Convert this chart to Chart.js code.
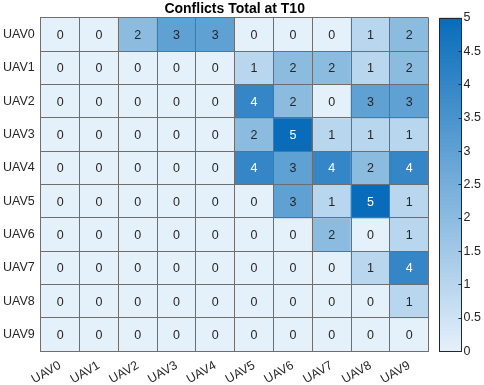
<!DOCTYPE html>
<html>
<head>
<meta charset="utf-8">
<script src="https://cdn.jsdelivr.net/npm/chart.js@4"></script>
<style>
  html, body { margin: 0; padding: 0; background: #fff; }
  #wrap { width: 484px; height: 385px; }
</style>
</head>
<body>
<div id="wrap"><canvas id="heatChart"></canvas></div>
<script>
const uavs = ['UAV0', 'UAV1', 'UAV2', 'UAV3', 'UAV4', 'UAV5', 'UAV6', 'UAV7', 'UAV8', 'UAV9'];

// rows = UAV0..UAV9 (top to bottom), columns = UAV0..UAV9 (left to right)
const conflicts = [
  [0, 0, 2, 3, 3, 0, 0, 0, 1, 2],
  [0, 0, 0, 0, 0, 1, 2, 2, 1, 2],
  [0, 0, 0, 0, 0, 4, 2, 0, 3, 3],
  [0, 0, 0, 0, 0, 2, 5, 1, 1, 1],
  [0, 0, 0, 0, 0, 4, 3, 4, 2, 4],
  [0, 0, 0, 0, 0, 0, 3, 1, 5, 1],
  [0, 0, 0, 0, 0, 0, 0, 2, 0, 1],
  [0, 0, 0, 0, 0, 0, 0, 0, 1, 4],
  [0, 0, 0, 0, 0, 0, 0, 0, 0, 1],
  [0, 0, 0, 0, 0, 0, 0, 0, 0, 0]
];

const colorMin = 0;
const colorMax = 5;
const lowColor = [228, 240, 250];
const highColor = [8, 108, 186];
const fontFamily = '"Liberation Sans", Arial, Helvetica, sans-serif';

Chart.defaults.font.family = fontFamily;
Chart.defaults.color = '#262626';

function cellColor(v) {
  const t = (v - colorMin) / (colorMax - colorMin);
  const c = lowColor.map((lo, k) => Math.round(lo + (highColor[k] - lo) * t));
  return `rgb(${c[0]}, ${c[1]}, ${c[2]})`;
}

// numbers inside the cells
const cellLabels = {
  id: 'cellLabels',
  afterDatasetsDraw(chart) {
    const ctx = chart.ctx;
    ctx.save();
    ctx.font = '12.5px ' + fontFamily;
    ctx.textAlign = 'center';
    ctx.textBaseline = 'middle';
    chart.data.datasets.forEach((ds, i) => {
      chart.getDatasetMeta(i).data.forEach((bar, j) => {
        const v = conflicts[i][j];
        ctx.fillStyle = v >= 4 ? '#ffffff' : '#262626';
        ctx.fillText(String(v), bar.x, (bar.y + bar.base) / 2 + 1);
      });
    });
    ctx.restore();
  }
};

// colour bar drawn inside the space of the 'cb' axis
const colorBar = {
  id: 'colorBar',
  afterDraw(chart) {
    const cb = chart.scales.cb;
    const ctx = chart.ctx;
    const x0 = Math.round(cb.left + 10) + 0.5;
    const x1 = Math.round(cb.left + 32) + 0.5;
    const yTop = cb.getPixelForValue(colorMax);
    const yBot = cb.getPixelForValue(colorMin);
    ctx.save();
    const grad = ctx.createLinearGradient(0, yBot, 0, yTop);
    grad.addColorStop(0, cellColor(colorMin));
    grad.addColorStop(1, cellColor(colorMax));
    ctx.fillStyle = grad;
    ctx.fillRect(x0, yTop, x1 - x0, yBot - yTop);
    ctx.strokeStyle = '#262626';
    ctx.lineWidth = 1;
    ctx.strokeRect(x0, Math.round(yTop) + 0.5, x1 - x0, Math.round(yBot - yTop));
    ctx.beginPath();
    cb.ticks.forEach(t => {
      const y = Math.round(cb.getPixelForValue(t.value)) + 0.5;
      ctx.moveTo(x1, y);
      ctx.lineTo(x1 - 3, y);
    });
    ctx.stroke();
    ctx.restore();
  }
};

const ctx = document.getElementById('heatChart').getContext('2d');

new Chart(ctx, {
  type: 'bar',
  data: {
    labels: uavs,
    datasets: conflicts.map((row, i) => ({
      label: uavs[i],
      data: uavs.map(() => [i, i + 1]),
      backgroundColor: row.map(cellColor),
      borderWidth: 0,
      barPercentage: 1,
      categoryPercentage: 1,
      grouped: false,
      yAxisID: 'y'
    }))
  },
  options: {
    responsive: true,
    maintainAspectRatio: false,
    animation: false,
    layout: { padding: { left: -3, right: 0, top: 1, bottom: -9 } },
    plugins: {
      legend: { display: false },
      tooltip: { enabled: false },
      title: {
        display: true,
        text: 'Conflicts Total at T10',
        fullSize: false,
        color: '#000',
        font: { size: 14, weight: 'bold' },
        padding: { top: 0, bottom: 0 }
      }
    },
    scales: {
      x: {
        type: 'category',
        offset: true,
        grid: { offset: true, color: '#6e6e6e', drawTicks: false, z: 1 },
        border: { color: '#6e6e6e', z: 1 },
        ticks: { minRotation: 30, maxRotation: 30, padding: 7, font: { size: 12.5 } }
      },
      y: {
        type: 'linear',
        min: 0,
        max: 10,
        reverse: true,
        afterBuildTicks: scale => {
          scale.ticks = uavs.map((_, i) => ({ value: i + 0.5 }));
        },
        grid: { offset: true, color: '#6e6e6e', drawTicks: false, z: 1 },
        border: { color: '#6e6e6e', z: 1 },
        ticks: { callback: (v, i) => uavs[i], padding: 6, font: { size: 12.5 } }
      },
      cb: {
        type: 'linear',
        position: 'right',
        min: colorMin,
        max: colorMax,
        grid: { drawOnChartArea: false, drawTicks: true, tickLength: 32, color: 'rgba(0,0,0,0)' },
        border: { display: false },
        ticks: { stepSize: 0.5, padding: 3, font: { size: 12.5 }, callback: v => String(v) }
      }
    }
  },
  plugins: [cellLabels, colorBar]
});
</script>
</body>
</html>
